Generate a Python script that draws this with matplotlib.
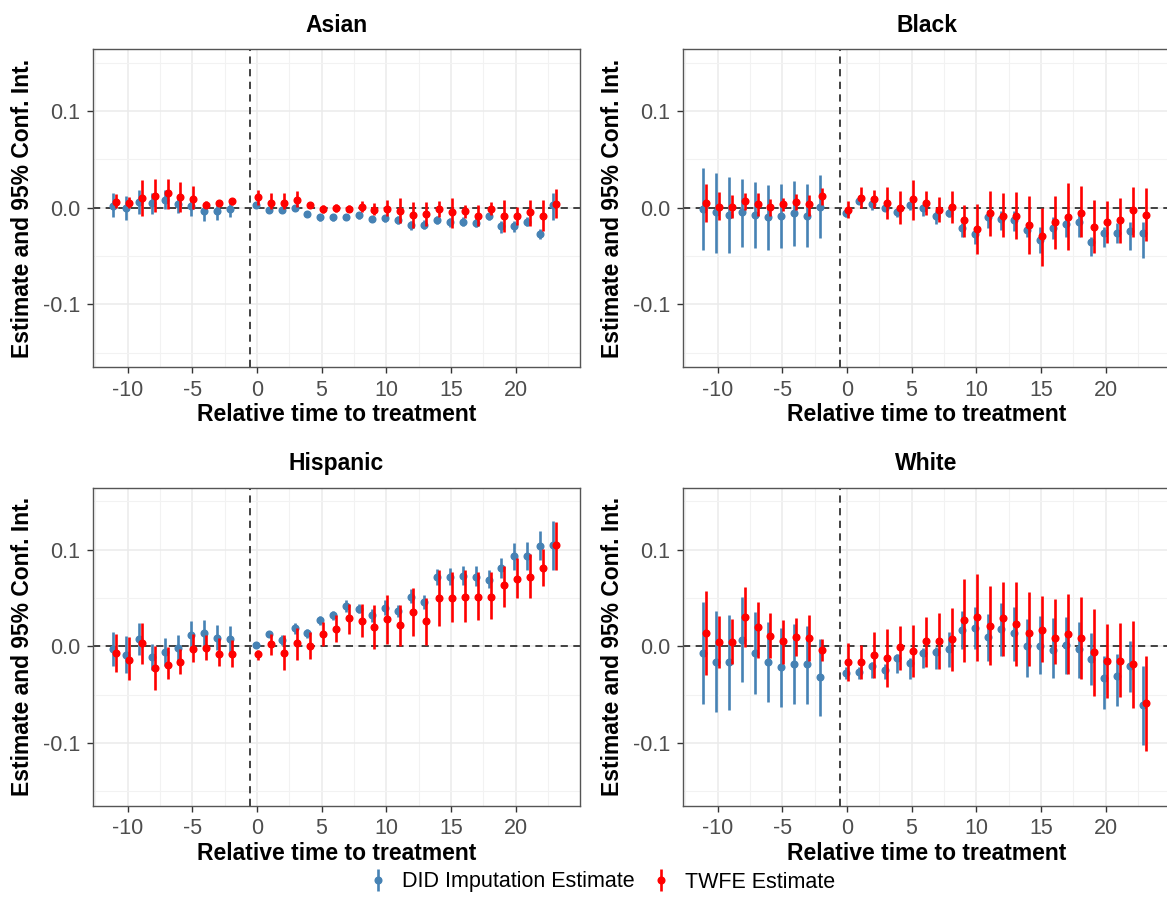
import matplotlib
matplotlib.use("Agg")
import matplotlib.pyplot as plt
import numpy as np

plt.rcParams['font.family'] = ['Liberation Sans', 'DejaVu Sans']

rel_time = [-11, -10, -9, -8, -7, -6, -5, -4, -3, -2,
            0, 1, 2, 3, 4, 5, 6, 7, 8, 9, 10, 11, 12, 13, 14, 15, 16, 17, 18, 19, 20, 21, 22, 23]

# ---------------- Asian ----------------
asian_did_est = [0.002, 0.000, 0.006, 0.0045, 0.008, 0.004, 0.002, -0.004, -0.0035, -0.0015,
                 0.003, -0.0025, -0.0025, -0.001, -0.0065, -0.010, -0.010, -0.010, -0.008, -0.012,
                 -0.011, -0.013, -0.0185, -0.018, -0.013, -0.0155, -0.0145, -0.016, -0.009, -0.0195,
                 -0.0195, -0.0145, -0.027, 0.003]
asian_did_lo = [-0.010, -0.013, -0.007, -0.007, -0.002, -0.006, -0.009, -0.014, -0.013, -0.010,
                -0.001, -0.005, -0.005, -0.004, -0.009, -0.0135, -0.0135, -0.013, -0.0115, -0.015,
                -0.015, -0.017, -0.023, -0.022, -0.017, -0.020, -0.019, -0.020, -0.013, -0.026,
                -0.025, -0.019, -0.033, -0.013]
asian_did_hi = [0.015, 0.012, 0.018, 0.015, 0.018, 0.011, 0.009, 0.003, 0.003, 0.006,
                0.005, 0.000, 0.000, 0.002, -0.0035, -0.0075, -0.007, -0.0065, -0.0045, -0.0085,
                -0.008, -0.009, -0.014, -0.013, -0.009, -0.011, -0.010, -0.011, -0.006, -0.014,
                -0.014, -0.010, -0.022, 0.015]
asian_twfe_est = [0.006, 0.0045, 0.010, 0.012, 0.015, 0.011, 0.009, 0.003, 0.005, 0.007,
                  0.011, 0.005, 0.005, 0.008, 0.003, -0.0015, -0.001, -0.0015, 0.001, -0.0025,
                  -0.0015, -0.0035, -0.0075, -0.0065, -0.0017, -0.005, -0.004, -0.0085, -0.0017, -0.0085,
                  -0.009, -0.005, -0.0085, 0.004]
asian_twfe_lo = [-0.001, -0.001, -0.009, -0.005, -0.002, -0.005, -0.002, 0.000, 0.002, 0.003,
                 0.003, -0.002, -0.002, 0.001, 0.000, -0.0055, -0.005, -0.005, -0.005, -0.0075,
                 -0.009, -0.016, -0.021, -0.0195, -0.0095, -0.021, -0.011, -0.0195, -0.0075, -0.025,
                 -0.018, -0.019, -0.024, -0.011]
asian_twfe_hi = [0.014, 0.011, 0.028, 0.030, 0.030, 0.026, 0.022, 0.007, 0.008, 0.010,
                 0.018, 0.015, 0.015, 0.017, 0.006, 0.0028, 0.0038, 0.0028, 0.007, 0.0045,
                 0.008, 0.0097, 0.006, 0.006, 0.007, 0.010, 0.0028, 0.0028, 0.0055, 0.008,
                 0.001, 0.0079, 0.008, 0.019]

# ---------------- Black ----------------
black_did_est = [-0.0014, -0.005, -0.0075, -0.005, -0.0075, -0.010, -0.0086, -0.006, -0.0086, 0.001,
                 -0.006, 0.007, 0.004, 0.000, -0.005, 0.0028, -0.0007, -0.0083, -0.006, -0.0207,
                 -0.027, -0.010, -0.012, -0.0128, -0.023, -0.0334, -0.0207, -0.0172, -0.0155, -0.036,
                 -0.0265, -0.026, -0.024, -0.026]
black_did_lo = [-0.044, -0.047, -0.047, -0.041, -0.042, -0.044, -0.042, -0.040, -0.041, -0.032,
                -0.010, 0.004, -0.0024, -0.004, -0.010, -0.0024, -0.0086, -0.017, -0.010, -0.030,
                -0.038, -0.021, -0.023, -0.024, -0.030, -0.047, -0.033, -0.030, -0.030, -0.050,
                -0.041, -0.037, -0.044, -0.052]
black_did_hi = [0.041, 0.036, 0.032, 0.030, 0.026, 0.023, 0.0245, 0.0275, 0.0245, 0.034,
                -0.0024, 0.0097, 0.007, 0.0038, 0.000, 0.0062, 0.0028, -0.004, -0.001, -0.016,
                -0.020, -0.0024, -0.0041, -0.004, -0.016, -0.020, -0.0093, -0.0076, -0.0066, -0.030,
                -0.020, -0.016, -0.0145, -0.0145]
black_twfe_est = [0.005, 0.001, 0.0003, 0.007, 0.0035, 0.0003, 0.004, 0.006, 0.004, 0.012,
                  -0.0024, 0.0103, 0.0086, 0.005, 0.000, 0.0086, 0.005, -0.0024, 0.0003, -0.0134,
                  -0.0224, -0.006, -0.0086, -0.0086, -0.018, -0.029, -0.0155, -0.0093, -0.006, -0.0197,
                  -0.0145, -0.0128, -0.0024, -0.0076]
black_twfe_lo = [-0.015, -0.013, -0.011, -0.0025, -0.009, -0.009, -0.004, -0.0024, -0.0086, 0.0028,
                 -0.011, -0.0007, -0.0007, -0.012, -0.017, -0.0128, -0.0076, -0.0155, -0.016, -0.030,
                 -0.048, -0.029, -0.031, -0.033, -0.048, -0.060, -0.043, -0.044, -0.031, -0.047,
                 -0.037, -0.037, -0.030, -0.035]
black_twfe_hi = [0.024, 0.016, 0.013, 0.015, 0.0155, 0.0086, 0.0097, 0.0138, 0.013, 0.0207,
                 0.007, 0.021, 0.018, 0.021, 0.0176, 0.0286, 0.0176, 0.0107, 0.0176, 0.0028,
                 0.0038, 0.0172, 0.0148, 0.0165, 0.012, 0.000, 0.012, 0.025, 0.022, 0.008,
                 0.0072, 0.0097, 0.021, 0.020]

# ---------------- Hispanic ----------------
hisp_did_est = [-0.0024, -0.0094, 0.007, -0.011, -0.006, -0.0017, 0.012, 0.0139, 0.009, 0.007,
                0.0017, 0.0125, 0.006, 0.019, 0.0139, 0.027, 0.032, 0.0417, 0.039, 0.032,
                0.040, 0.0365, 0.051, 0.0455, 0.072, 0.072, 0.073, 0.072, 0.0688, 0.081,
                0.093, 0.093, 0.1035, 0.1045]
hisp_did_lo = [-0.020, -0.028, -0.0094, -0.025, -0.020, -0.0174, -0.0024, -0.0007, -0.0035, -0.006,
               -0.0007, 0.0097, 0.001, 0.013, 0.009, 0.022, 0.027, 0.0358, 0.034, 0.025,
               0.032, 0.0306, 0.0444, 0.039, 0.0635, 0.0635, 0.0635, 0.062, 0.060, 0.0705,
               0.079, 0.079, 0.0896, 0.079]
hisp_did_hi = [0.015, 0.011, 0.0236, 0.0028, 0.008, 0.0115, 0.026, 0.027, 0.0219, 0.0208,
               0.0035, 0.015, 0.0115, 0.0236, 0.0174, 0.031, 0.0368, 0.048, 0.0438, 0.039,
               0.048, 0.0427, 0.059, 0.053, 0.080, 0.081, 0.083, 0.0826, 0.079, 0.091,
               0.107, 0.108, 0.119, 0.1295]
hisp_twfe_est = [-0.007, -0.014, 0.0035, -0.0226, -0.019, -0.0163, -0.0024, -0.0017, -0.0076, -0.0083,
                 -0.0083, 0.002, -0.007, 0.0035, 0.0003, 0.013, 0.018, 0.029, 0.026, 0.020,
                 0.028, 0.022, 0.035, 0.026, 0.0497, 0.050, 0.0507, 0.051, 0.0507, 0.0635,
                 0.070, 0.072, 0.081, 0.1045]
hisp_twfe_lo = [-0.027, -0.035, -0.018, -0.045, -0.034, -0.0285, -0.016, -0.0139, -0.0208, -0.022,
                -0.0139, -0.0094, -0.025, -0.0139, -0.0128, 0.000, 0.0045, 0.0125, 0.0097, -0.0024,
                0.002, 0.000, 0.0104, 0.001, 0.0208, 0.025, 0.025, 0.027, 0.028, 0.041,
                0.0497, 0.0497, 0.062, 0.079]
hisp_twfe_hi = [0.013, 0.0097, 0.024, 0.000, -0.0007, -0.0024, 0.013, 0.0115, 0.008, 0.006,
                -0.0042, 0.013, 0.0115, 0.0184, 0.0149, 0.025, 0.032, 0.044, 0.0437, 0.0427,
                0.053, 0.0427, 0.060, 0.050, 0.079, 0.077, 0.079, 0.077, 0.077, 0.083,
                0.091, 0.095, 0.101, 0.128]

# ---------------- White ----------------
white_did_est = [-0.0069, -0.0159, -0.0166, 0.0069, -0.0069, -0.0159, -0.0217, -0.0183, -0.0183, -0.032,
                 -0.0276, -0.0269, -0.0207, -0.0241, -0.0124, -0.0172, -0.0069, -0.0062, -0.0028, 0.0172,
                 0.019, 0.0093, 0.0179, 0.0134, 0.000, 0.0007, -0.0038, 0.0014, -0.0028, -0.0131,
                 -0.0331, -0.031, -0.0207, -0.0607]
white_did_lo = [-0.0597, -0.0676, -0.0655, -0.0372, -0.0493, -0.0572, -0.0631, -0.0597, -0.0597, -0.0724,
                -0.0338, -0.0338, -0.0331, -0.0338, -0.0276, -0.0338, -0.0228, -0.0234, -0.0217, -0.0028,
                -0.0028, -0.0148, -0.0097, -0.0148, -0.032, -0.0286, -0.0331, -0.0286, -0.0331, -0.040,
                -0.0648, -0.0614, -0.0476, -0.102]
white_did_hi = [0.0462, 0.0362, 0.0328, 0.0507, 0.0359, 0.0255, 0.0186, 0.0231, 0.0214, 0.0076,
                -0.0217, -0.0217, -0.0159, -0.0183, -0.0079, -0.0124, -0.0021, -0.001, 0.0152, 0.0369,
                0.0403, 0.0334, 0.0448, 0.0403, 0.0283, 0.031, 0.029, 0.030, 0.0255, 0.0138,
                -0.0097, -0.0079, 0.0059, -0.0207]
white_twfe_est = [0.0138, 0.0041, 0.0048, 0.0307, 0.0197, 0.011, 0.0052, 0.010, 0.0086, -0.0034,
                  -0.0159, -0.0159, -0.009, -0.0121, -0.001, -0.0045, 0.0052, 0.0052, 0.0076, 0.0276,
                  0.030, 0.0214, 0.029, 0.0231, 0.0134, 0.0169, 0.0083, 0.0128, 0.0086, -0.0062,
                  -0.0148, -0.0148, -0.0183, -0.059]
white_twfe_lo = [-0.030, -0.0228, -0.0183, -0.001, -0.0124, -0.0124, -0.0183, -0.0103, -0.0148, -0.0148,
                 -0.0355, -0.0338, -0.0331, -0.0424, -0.0241, -0.032, -0.0217, -0.0234, -0.0252, -0.0159,
                 -0.0148, -0.0193, -0.0097, -0.0207, -0.0207, -0.0166, -0.0183, -0.0286, -0.0338, -0.051,
                 -0.0538, -0.0528, -0.0641, -0.108]
white_twfe_hi = [0.0576, 0.031, 0.0283, 0.061, 0.0455, 0.0345, 0.0276, 0.029, 0.0324, 0.0076,
                 0.0034, 0.0014, 0.0152, 0.0179, 0.0214, 0.022, 0.030, 0.0341, 0.0393, 0.070,
                 0.0745, 0.062, 0.066, 0.066, 0.0566, 0.0524, 0.049, 0.0541, 0.0507, 0.0386,
                 0.0231, 0.0241, 0.0266, -0.0103]

panel_titles = ["Asian", "Black", "Hispanic", "White"]
series_labels = ["DID Imputation Estimate", "TWFE Estimate"]
xlabel_text = "Relative time to treatment"
ylabel_text = "Estimate and 95% Conf. Int."

panels = [
    (asian_did_est, asian_did_lo, asian_did_hi, asian_twfe_est, asian_twfe_lo, asian_twfe_hi),
    (black_did_est, black_did_lo, black_did_hi, black_twfe_est, black_twfe_lo, black_twfe_hi),
    (hisp_did_est, hisp_did_lo, hisp_did_hi, hisp_twfe_est, hisp_twfe_lo, hisp_twfe_hi),
    (white_did_est, white_did_lo, white_did_hi, white_twfe_est, white_twfe_lo, white_twfe_hi),
]

BLUE = "#4682B4"
RED = "#FF0000"
W, H = 1167, 923
fig = plt.figure(figsize=(W / 100, H / 100), dpi=100)

ax_w, ax_h = 487, 318
positions = [(93, 49), (683, 49), (93, 487.7), (683, 487.7)]

x = np.array(rel_time, dtype=float)
handles = None
for i, (title, data) in enumerate(zip(panel_titles, panels)):
    left, top = positions[i]
    ax = fig.add_axes([left / W, 1 - (top + ax_h) / H, ax_w / W, ax_h / H])
    d_est, d_lo, d_hi, t_est, t_lo, t_hi = [np.array(v) for v in data]

    ax.axhline(0, color="#333333", lw=1.3, ls=(0, (4, 3)), zorder=1)
    ax.axvline(-0.5, color="#333333", lw=1.3, ls=(0, (4, 3)), zorder=1)

    e1 = ax.errorbar(x - 0.09, d_est, yerr=[d_est - d_lo, d_hi - d_est], fmt='o', color=BLUE,
                     ecolor=BLUE, elinewidth=1.9, markersize=4.8, capsize=0, zorder=3,
                     label=series_labels[0])
    e2 = ax.errorbar(x + 0.09, t_est, yerr=[t_est - t_lo, t_hi - t_est], fmt='o', color=RED,
                     ecolor=RED, elinewidth=1.9, markersize=4.8, capsize=0, zorder=4,
                     label=series_labels[1])
    handles = [e1, e2]

    ax.set_xlim(-12.67, 24.98)
    ax.set_ylim(-0.165, 0.164)
    ax.set_xticks([-10, -5, 0, 5, 10, 15, 20])
    ax.set_xticklabels(["-10", "-5", "0", "5", "10", "15", "20"])
    ax.set_xticks([-12.5, -7.5, -2.5, 2.5, 7.5, 12.5, 17.5, 22.5], minor=True)
    ax.set_yticks([-0.1, 0.0, 0.1])
    ax.set_yticklabels(["-0.1", "0.0", "0.1"])
    ax.set_yticks([-0.15, -0.05, 0.05, 0.15], minor=True)

    ax.grid(True, which='major', color="#EBEBEB", lw=1.1, zorder=0)
    ax.grid(True, which='minor', color="#F2F2F2", lw=0.8, zorder=0)
    ax.set_axisbelow(True)

    for sp in ax.spines.values():
        sp.set_color("#555555")
        sp.set_linewidth(1.0)
    ax.tick_params(which='major', length=4, width=1.0, color="#333333",
                   labelsize=15.5, labelcolor="#4D4D4D", pad=5)
    ax.tick_params(which='minor', length=0)

    ax.set_title(title, fontsize=16.5, fontweight='bold', pad=12.5)
    ax.set_xlabel(xlabel_text, fontsize=16.5, fontweight='bold', labelpad=2)
    ax.set_ylabel(ylabel_text, fontsize=16.5, fontweight='bold', labelpad=7)

fig.legend(handles=handles, labels=series_labels, loc='center', bbox_to_anchor=(601 / W, 1 - 882 / H),
           ncol=2, frameon=False, fontsize=15.5, handlelength=1.0, handletextpad=0.6,
           columnspacing=0.75)

fig.savefig("out.png", dpi=100)
